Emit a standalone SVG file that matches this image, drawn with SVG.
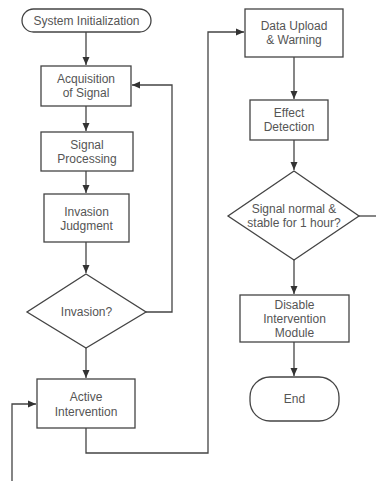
<svg xmlns="http://www.w3.org/2000/svg" width="376" height="481" viewBox="0 0 376 481">
<style>
.n{fill:#fff;stroke:#444;stroke-width:1.3}
.t{font-family:"Liberation Sans",Arial,sans-serif;font-size:12px;fill:#555;text-anchor:middle}
.c{fill:none;stroke:#444;stroke-width:1.3}
</style>
<defs>
<marker id="a" markerWidth="10" markerHeight="10" refX="9" refY="5" orient="auto" markerUnits="userSpaceOnUse">
<path d="M1,1.5 L9,5 L1,8.5 Z" fill="#333"/>
</marker>
</defs>
<rect width="376" height="481" fill="#fff"/>
<g id="connectors">
<path class="c" d="M86,32 V65" marker-end="url(#a)"/>
<path class="c" d="M86,106 V131" marker-end="url(#a)"/>
<path class="c" d="M86,171 V193" marker-end="url(#a)"/>
<path class="c" d="M86,242 V273" marker-end="url(#a)"/>
<path class="c" d="M146,312 H172 V85 H132" marker-end="url(#a)"/>
<path class="c" d="M86,348 V378" marker-end="url(#a)"/>
<path class="c" d="M12,481 V404 H36" marker-end="url(#a)"/>
<path class="c" d="M86,428 V453 H208 V32 H244" marker-end="url(#a)"/>
<path class="c" d="M294,57 V99" marker-end="url(#a)"/>
<path class="c" d="M294,140 V170" marker-end="url(#a)"/>
<path class="c" d="M359,216 H376"/>
<path class="c" d="M294,260 V294" marker-end="url(#a)"/>
<path class="c" d="M294,342 V376" marker-end="url(#a)"/>
</g>
<g id="start">
<rect class="n" x="22" y="9" width="129" height="23" rx="11.5"/>
<text class="t" x="86.5" y="25">System Initialization</text>
</g>
<g id="acquisition">
<rect class="n" x="41" y="66" width="90" height="40"/>
<text class="t" x="86" y="83">Acquisition</text>
<text class="t" x="86" y="97">of Signal</text>
</g>
<g id="processing">
<rect class="n" x="41" y="132" width="92" height="39"/>
<text class="t" x="87" y="149">Signal</text>
<text class="t" x="87" y="163">Processing</text>
</g>
<g id="judgment">
<rect class="n" x="44" y="194" width="85" height="48"/>
<text class="t" x="86.5" y="216">Invasion</text>
<text class="t" x="86.5" y="230">Judgment</text>
</g>
<g id="invasion-decision">
<polygon class="n" points="86,274 146,312 86,348 27,312"/>
<text class="t" x="86.5" y="316">Invasion?</text>
</g>
<g id="intervention">
<rect class="n" x="37" y="379" width="98" height="49"/>
<text class="t" x="86" y="401">Active</text>
<text class="t" x="86" y="416">Intervention</text>
</g>
<g id="upload">
<rect class="n" x="245" y="9" width="98" height="48"/>
<text class="t" x="294" y="30">Data Upload</text>
<text class="t" x="294" y="44">&amp; Warning</text>
</g>
<g id="effect">
<rect class="n" x="250" y="100" width="78" height="40"/>
<text class="t" x="289" y="117">Effect</text>
<text class="t" x="289" y="131">Detection</text>
</g>
<g id="stable-decision">
<polygon class="n" points="294,171 359,216 294,260 228,216"/>
<text class="t" x="294" y="213">Signal normal &amp;</text>
<text class="t" x="294" y="227">stable for 1 hour?</text>
</g>
<g id="disable">
<rect class="n" x="240" y="295" width="109" height="47"/>
<text class="t" x="294.5" y="309">Disable</text>
<text class="t" x="294.5" y="323">Intervention</text>
<text class="t" x="294.5" y="337">Module</text>
</g>
<g id="end">
<rect class="n" x="250" y="377" width="89" height="44" rx="20"/>
<text class="t" x="294.5" y="403">End</text>
</g>
</svg>
